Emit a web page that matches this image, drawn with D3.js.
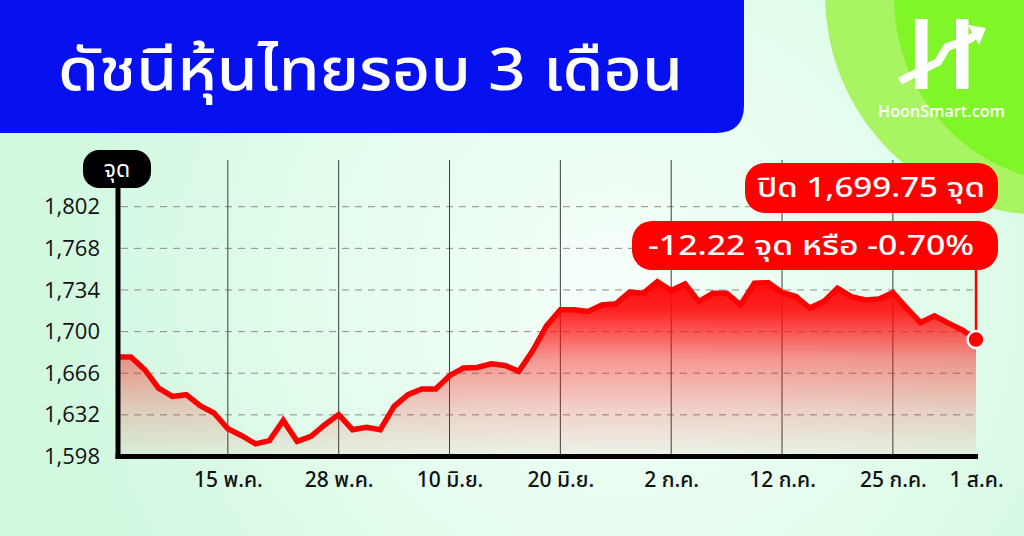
<!DOCTYPE html>
<html><head><meta charset="utf-8">
<script src="https://cdn.jsdelivr.net/npm/d3@7"></script>
<style>html,body{margin:0;padding:0;overflow:hidden;background:#d8fae6}</style>
</head><body><svg id="c" width="1024" height="536"></svg>
<script>
// ---- data ----
const title = "ดัชนีหุ้นไทยรอบ 3 เดือน";
const yUnit = "จุด";
const values = [1679.2,1679.2,1668.9,1653.9,1647.1,1648.5,1639.5,1633.5,1620.7,1615.0,
  1608.3,1611.0,1627.5,1610.4,1614.5,1624.0,1632.2,1619.9,1621.8,1619.9,
  1638.9,1648.5,1653.1,1653.1,1664.0,1670.2,1670.7,1673.7,1672.4,1667.5,
  1684.3,1704.7,1717.8,1717.8,1716.4,1721.8,1722.7,1732.2,1731.4,1740.8,
  1733.5,1739.0,1724.5,1731.4,1731.4,1721.8,1739.5,1740.0,1732.0,1728.6,
  1719.2,1724.5,1735.5,1728.6,1725.9,1726.7,1731.9,1719.2,1707.4,1712.9,
  1706.9,1701.5,1693.5];
const yTicks = [1598,1632,1666,1700,1734,1768,1802];
const xTickLabels = ["15 พ.ค.","28 พ.ค.","10 มิ.ย.","20 มิ.ย.","2 ก.ค.","12 ก.ค.","25 ก.ค.","1 ส.ค."];
const xTickIndex = [8,16,24,32,40,48,56,62];
const xGridIndex = [8,16,24,32,40,48,56];
const closeLabel = "ปิด 1,699.75 จุด";
const changeLabel = "-12.22 จุด หรือ -0.70%";
const brand = "HoonSmart.com";

// ---- drawing ----
const svg = d3.select("#c");
const defs = svg.append("defs");
const NUM = "'Open Sans','Noto Sans Thai','Noto Sans',sans-serif";
const TH = "'Noto Sans Thai','Noto Sans Thai Looped','Noto Sans','Open Sans',sans-serif";

const bg = defs.append("radialGradient").attr("id","bg").attr("gradientUnits","userSpaceOnUse")
  .attr("cx",620).attr("cy",290).attr("r",560);
bg.append("stop").attr("offset",0).attr("stop-color","#f6fffa");
bg.append("stop").attr("offset",0.55).attr("stop-color","#e2fcec");
bg.append("stop").attr("offset",1).attr("stop-color","#d2f8e0");
svg.append("rect").attr("width",1024).attr("height",536).attr("fill","url(#bg)");

// top-right green circles
svg.append("circle").attr("cx",1045).attr("cy",-5).attr("r",220).attr("fill","#a8f462");
svg.append("circle").attr("cx",1080).attr("cy",-2).attr("r",186).attr("fill","#80f628");

// title block
svg.append("path").attr("d","M0,0 H744 V105 Q744,133 716,133 H0 Z").attr("fill","#0710ee");
svg.append("text").attr("x",58).attr("y",90).attr("fill","#fff")
  .attr("font-family",TH).attr("font-size",58).attr("font-weight",500)
  .attr("textLength",625).attr("lengthAdjust","spacingAndGlyphs").text(title);

// logo
const logo = svg.append("g").attr("fill","#fff");
logo.append("rect").attr("x",915).attr("y",19).attr("width",12.5).attr("height",70);
logo.append("rect").attr("x",956).attr("y",19).attr("width",12.5).attr("height",70);
logo.append("path").attr("d","M900,81 L938,62 L947,47 L970,39 L978,33")
  .attr("fill","none").attr("stroke","#fff").attr("stroke-width",8).attr("stroke-linejoin","miter");
logo.append("path").attr("d","M968,25 L986,28 L979,45 Z");
svg.append("text").attr("x",878).attr("y",117).attr("fill","#fff").attr("font-family","'Open Sans',sans-serif")
  .attr("font-weight",600).attr("font-size",16).attr("textLength",127).attr("lengthAdjust","spacingAndGlyphs").text(brand);

// scales
const x = d3.scaleLinear().domain([0, values.length-1]).range([117, 976]);
const y = d3.scaleLinear().domain([1598, 1802]).range([456.5, 206.7]);
const left = 118, right = 978, bottom = 456.5;

// horizontal dashed grid
svg.append("g").selectAll("line").data(yTicks.slice(1)).join("line")
  .attr("x1",left+3).attr("x2",right).attr("y1",d=>y(d)).attr("y2",d=>y(d))
  .attr("stroke","#8c8c8c").attr("stroke-width",1).attr("stroke-dasharray","7,6");

// vertical grid
svg.append("g").selectAll("line").data(xGridIndex).join("line")
  .attr("x1",d=>x(d)).attr("x2",d=>x(d)).attr("y1",160).attr("y2",bottom)
  .attr("stroke","#3c3c3c").attr("stroke-width",1);

// area
const ag = defs.append("linearGradient").attr("id","ag").attr("gradientUnits","userSpaceOnUse")
  .attr("x1",0).attr("x2",0).attr("y1",280).attr("y2",bottom);
[[0,1],[0.17,0.9],[0.45,0.42],[0.74,0.18],[1,0.04]].forEach(([o,a])=>
  ag.append("stop").attr("offset",o).attr("stop-color","#ff0a0a").attr("stop-opacity",a));
const area = d3.area().x((d,i)=>x(i)).y0(bottom).y1(d=>y(d));
svg.append("path").datum(values).attr("d",area).attr("fill","url(#ag)");
const line = d3.line().x((d,i)=>x(i)).y(d=>y(d));
svg.append("path").datum(values).attr("d",line).attr("fill","none")
  .attr("stroke","#ff0000").attr("stroke-width",5.5).attr("stroke-linejoin","miter");

// axes
const yAxis = svg.append("g").attr("transform",`translate(${left},0)`)
  .call(d3.axisLeft(y).tickValues(yTicks).tickSize(0).tickPadding(18).tickFormat(d3.format(",")));
yAxis.select(".domain").remove();
yAxis.selectAll("text").attr("font-family",NUM).attr("font-size",22).attr("font-weight",500).attr("fill","#111");
svg.append("line").attr("x1",left).attr("x2",left).attr("y1",186).attr("y2",bottom+2.5)
  .attr("stroke","#000").attr("stroke-width",5);
svg.append("line").attr("x1",left-2.5).attr("x2",right).attr("y1",bottom).attr("y2",bottom)
  .attr("stroke","#000").attr("stroke-width",5);

const xAxis = svg.append("g").attr("transform",`translate(0,${bottom})`)
  .call(d3.axisBottom(x).tickValues(xTickIndex).tickSize(0).tickPadding(16)
    .tickFormat((d,i)=>xTickLabels[i]));
xAxis.select(".domain").remove();
xAxis.selectAll("text").attr("font-family",TH).attr("font-size",21).attr("font-weight",500).attr("fill","#111");

// y unit pill
svg.append("rect").attr("x",83).attr("y",150).attr("width",68).attr("height",38).attr("rx",16).attr("fill","#000");
svg.append("text").attr("x",117).attr("y",177).attr("text-anchor","middle").attr("fill","#fff")
  .attr("font-family",TH).attr("font-size",23).text(yUnit);

// annotation
const last = values.length-1;
svg.append("line").attr("x1",x(last)).attr("x2",x(last)).attr("y1",262).attr("y2",y(values[last]))
  .attr("stroke","#ff0000").attr("stroke-width",2.5);
svg.append("rect").attr("x",745).attr("y",163).attr("width",253).attr("height",50).attr("rx",20).attr("fill","#ff0000");
svg.append("rect").attr("x",632).attr("y",221).attr("width",366).attr("height",49).attr("rx",20).attr("fill","#ff0000");
svg.append("text").attr("x",757).attr("y",197).attr("fill","#fff").attr("font-family",TH)
  .attr("font-size",27).attr("font-weight",500).attr("textLength",228).attr("lengthAdjust","spacingAndGlyphs").text(closeLabel);
svg.append("text").attr("x",648).attr("y",255).attr("fill","#fff").attr("font-family",TH)
  .attr("font-size",27).attr("font-weight",500).attr("textLength",326).attr("lengthAdjust","spacingAndGlyphs").text(changeLabel);
svg.append("circle").attr("cx",x(last)).attr("cy",y(values[last])).attr("r",8.5)
  .attr("fill","#ff0000").attr("stroke","#fff").attr("stroke-width",2.5);
</script></body></html>
